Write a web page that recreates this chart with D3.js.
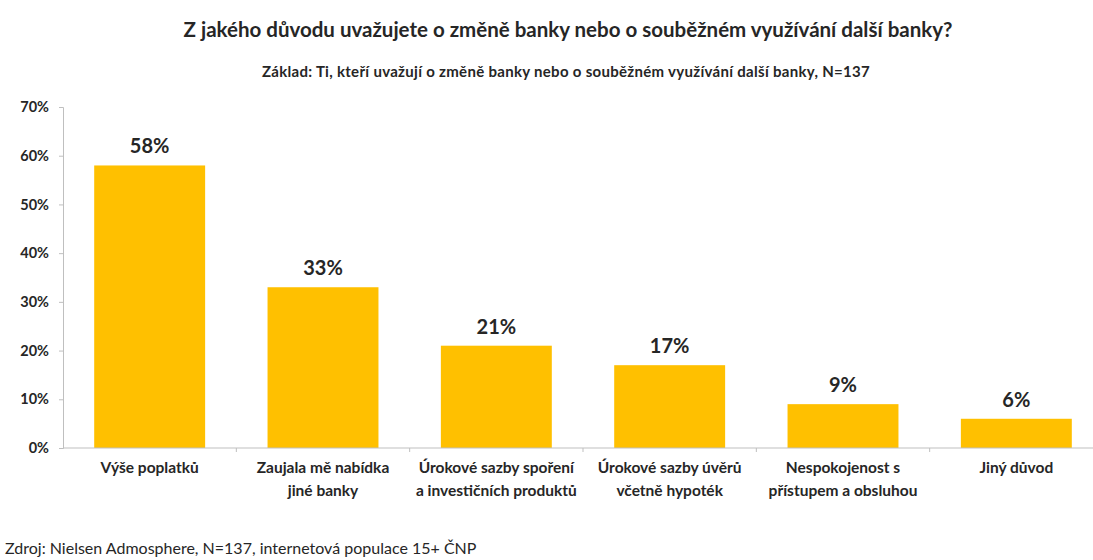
<!DOCTYPE html>
<html lang="cs">
<head>
    <meta charset="UTF-8">
    <title>Důvody změny banky</title>
    <style>
        body{ margin:0; background:#fff; }
        svg{ display:block; }
        text{ font-family: Lato, "Open Sans", sans-serif; fill:#262626; }
    </style>
</head>
<body>
    <script src="https://cdn.jsdelivr.net/npm/d3@7"></script>
    <script>
        // donnees
        const kategorie = [
            ["Výše poplatků"],
            ["Zaujala mě nabídka", "jiné banky"],
            ["Úrokové sazby spoření", "a investičních produktů"],
            ["Úrokové sazby úvěrů", "včetně hypoték"],
            ["Nespokojenost s", "přístupem a obsluhou"],
            ["Jiný důvod"]
        ];
        const hodnoty = [58, 33, 21, 17, 9, 6];
        const yTicks = [0, 10, 20, 30, 40, 50, 60, 70];

        const titulek = "Z jakého důvodu uvažujete o změně banky nebo o souběžném využívání další banky?";
        const podtitulek = "Základ: Ti, kteří uvažují o změně banky nebo o souběžném využívání další banky, N=137";
        const zdroj = "Zdroj: Nielsen Admosphere, N=137, internetová populace 15+ ČNP";

        const W = 1093, H = 560;
        const svg = d3.select('body').append('svg')
            .attr('width', W)
            .attr('height', H);

        const x = d3.scaleBand()
            .domain(d3.range(kategorie.length))
            .range([63, 1103])
            .paddingInner(0.36)
            .paddingOuter(0.18);

        const y = d3.scaleLinear()
            .domain([0, 70])
            .range([448, 107]);

        // titre et sous-titre
        svg.append('text')
            .attr('x', 568).attr('y', 37)
            .attr('text-anchor', 'middle')
            .style('font-size', '20.5px').style('font-weight', 'bold')
            .text(titulek);

        svg.append('text')
            .attr('x', 566).attr('y', 77)
            .attr('text-anchor', 'middle')
            .style('font-size', '15px').style('font-weight', 'bold')
            .style('letter-spacing', '0.3px')
            .text(podtitulek);

        // axe y
        const yAxis = svg.append('g')
            .attr('transform', 'translate(63,0)')
            .call(d3.axisLeft(y).tickValues(yTicks).tickFormat(d => d + '%').tickSize(4).tickPadding(10));
        yAxis.selectAll('path, line').attr('stroke', '#bfbfbf');
        yAxis.selectAll('text')
            .style('font-size', '14.5px').style('font-weight', 'bold')
            .style('font-family', 'Lato, sans-serif').attr('fill', '#404040');

        // barres
        svg.append('g').selectAll('rect')
            .data(hodnoty)
            .enter()
            .append('rect')
                .attr('x', (d, i) => x(i))
                .attr('y', d => y(d))
                .attr('width', x.bandwidth())
                .attr('height', d => y(0) - y(d))
                .attr('fill', '#FFC000');

        // valeurs au dessus des barres
        svg.append('g').selectAll('text')
            .data(hodnoty)
            .enter()
            .append('text')
                .attr('x', (d, i) => x(i) + x.bandwidth() / 2)
                .attr('y', d => y(d) - 12)
                .attr('text-anchor', 'middle')
                .style('font-size', '20px').style('font-weight', 'bold')
                .text(d => d + '%');

        // axe x : ligne et petits traits entre les categories
        const osa = svg.append('g');
        osa.append('line')
            .attr('x1', 63).attr('x2', W)
            .attr('y1', y(0)).attr('y2', y(0))
            .attr('stroke', '#bfbfbf');
        osa.selectAll('.tick')
            .data(d3.range(1, kategorie.length))
            .enter()
            .append('line')
                .attr('class', 'tick')
                .attr('x1', i => x(i) - x.step() * x.paddingInner() / 2)
                .attr('x2', i => x(i) - x.step() * x.paddingInner() / 2)
                .attr('y1', y(0)).attr('y2', y(0) + 4)
                .attr('stroke', '#bfbfbf');

        // libelles des categories
        const popisky = svg.append('g').selectAll('text')
            .data(kategorie)
            .enter()
            .append('text')
                .attr('x', (d, i) => x(i) + x.bandwidth() / 2)
                .attr('y', 473)
                .attr('text-anchor', 'middle')
                .style('font-size', '15.5px').style('font-weight', 'bold');
        popisky.selectAll('tspan')
            .data(d => d)
            .enter()
            .append('tspan')
                .attr('x', function(){ return this.parentNode.getAttribute('x'); })
                .attr('dy', (d, j) => j === 0 ? 0 : 23)
                .text(d => d);

        // source
        svg.append('text')
            .attr('x', 5).attr('y', 554)
            .style('font-size', '16px')
            .attr('fill', '#404040')
            .text(zdroj);
    </script>
</body>
</html>
